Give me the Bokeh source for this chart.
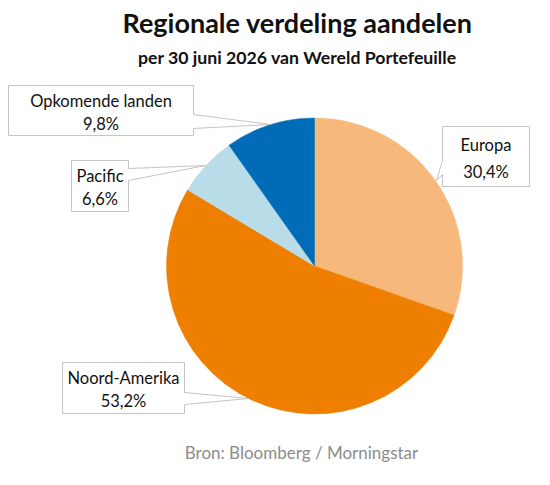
import math
from bokeh.plotting import figure
from bokeh.models import Range1d
from bokeh.core.properties import value
from bokeh.embed import file_html
from bokeh.resources import INLINE

# ---- data ----
regions = ["Europa", "Noord-Amerika", "Pacific", "Opkomende landen"]
shares = [30.4, 53.2, 6.6, 9.8]
colors = ["#F7B87B", "#EE7F00", "#B8DDE8", "#006BB6"]
title = "Regionale verdeling aandelen"
subtitle = "per 30 juni 2026 van Wereld Portefeuille"
source = "Bron: Bloomberg / Morningstar"

W, H = 550, 485
FONT = "Lato"


def Y(py):
    return H - py


p = figure(width=W, height=H, x_range=Range1d(0, W), y_range=Range1d(0, H),
           toolbar_location=None, output_backend="svg", min_border=0)
p.axis.visible = False
p.grid.visible = False
p.outline_line_color = None
p.background_fill_color = "white"
p.border_fill_color = "white"

# ---- pie ----
cx, cy, r = 314, Y(265.5), 148
total = sum(shares)
cum = 0.0
starts, ends = [], []
for s in shares:
    a0 = math.pi / 2 - 2 * math.pi * cum / total
    cum += s
    a1 = math.pi / 2 - 2 * math.pi * cum / total
    starts.append(a0)
    ends.append(a1)

p.wedge(x=[cx] * len(shares), y=[cy] * len(shares), radius=r,
        start_angle=starts, end_angle=ends, direction="clock",
        fill_color=colors, line_color=colors, line_width=0.5)

# ---- callouts (speech-bubble boxes) ----
callouts = {
    "Opkomende landen": dict(box=(8, 85, 193, 135), side="right", base=(114, 128), tip=(270, 124)),
    "Pacific": dict(box=(71, 160, 128, 211), side="right", base=(168, 180), tip=(205, 165)),
    "Europa": dict(box=(442, 126, 529, 186), side="left", base=(160, 174), tip=(436, 180)),
    "Noord-Amerika": dict(box=(62, 362, 184, 413), side="right", base=(392, 404), tip=(248, 398)),
}

for name, share in zip(regions, shares):
    c = callouts[name]
    l, t, rr, b = c["box"]
    b0, b1 = c["base"]
    tx, ty = c["tip"]
    if c["side"] == "right":
        pts = [(l, t), (rr, t), (rr, b0), (tx, ty), (rr, b1), (rr, b), (l, b)]
    else:
        pts = [(l, t), (rr, t), (rr, b), (l, b), (l, b1), (tx, ty), (l, b0)]
    xs = [q[0] for q in pts]
    ys = [Y(q[1]) for q in pts]
    p.patch(xs, ys, fill_color="white", line_color="#C4C4C4", line_width=1)
    mx = (l + rr) / 2
    p.text(x=[mx, mx], y=[Y(t + (b - t) * 0.31), Y(t + (b - t) * 0.76)],
           text=[name, f"{share:.1f}%".replace(".", ",")],
           text_align="center", text_baseline="middle",
           text_font=value(FONT), text_font_size="16.5px", text_color="#111111")

# ---- titles ----
p.text(x=[297], y=[Y(22)], text=[title], text_align="center", text_baseline="middle",
       text_font=value(FONT), text_font_size="27px", text_font_style="bold", text_color="#111111")
p.text(x=[297], y=[Y(57)], text=[subtitle], text_align="center", text_baseline="middle",
       text_font=value(FONT), text_font_size="17.7px", text_font_style="bold", text_color="#111111")
p.text(x=[301], y=[Y(452)], text=[source], text_align="center", text_baseline="middle",
       text_font=value(FONT), text_font_size="17px", text_color="#8C8C8C")

open("out.html", "w").write(file_html(p, INLINE))
